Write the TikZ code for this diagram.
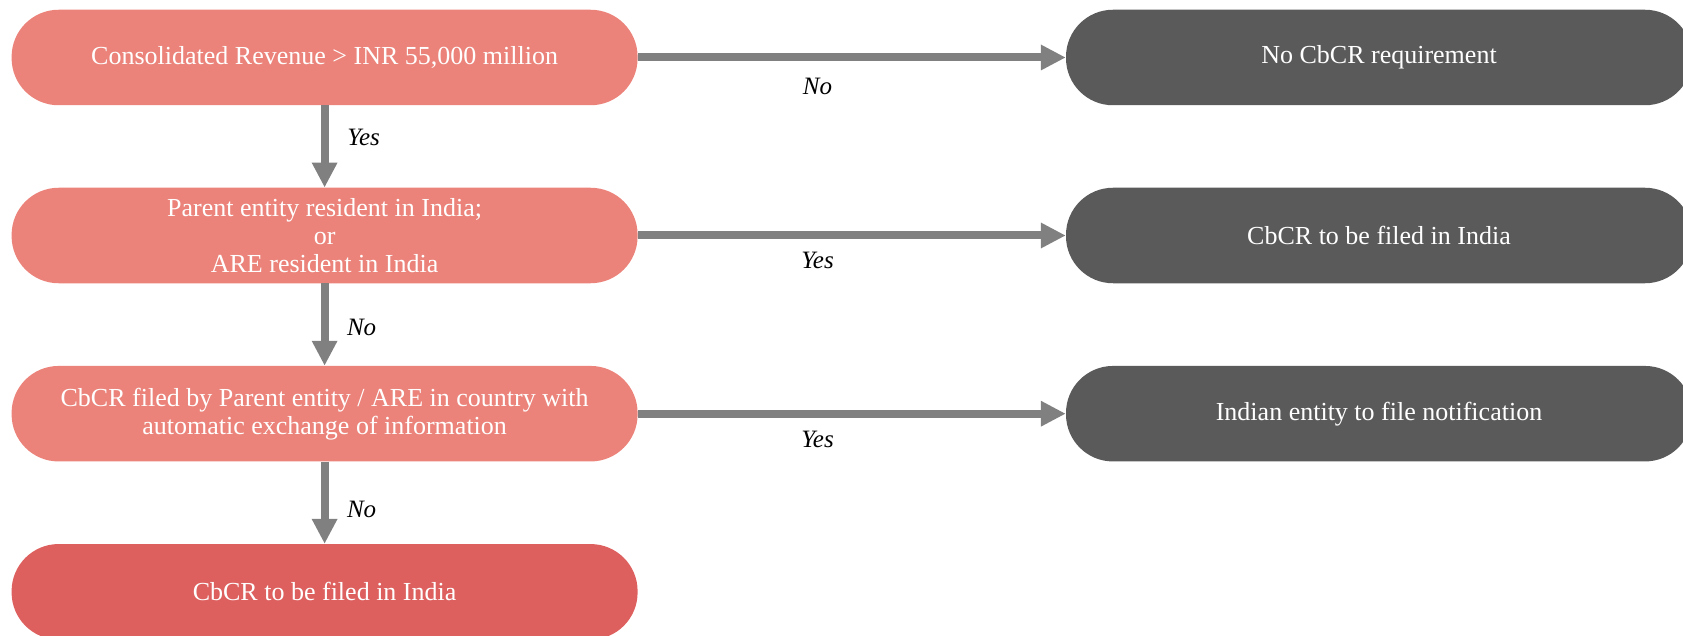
\documentclass[tikz,border=0pt]{standalone}
\usepackage{fontspec}
\setmainfont{Liberation Serif}
\usetikzlibrary{arrows.meta}
\definecolor{salmon}{RGB}{235,131,122}
\definecolor{deepsalmon}{RGB}{221,96,95}
\definecolor{slate}{RGB}{90,90,90}
\definecolor{connector}{RGB}{128,128,128}
\begin{document}
\begin{tikzpicture}[x=1pt,y=1pt,
  pill/.style={rectangle, rounded corners=47pt, minimum width=626pt,
    minimum height=95.5pt, inner sep=0pt, text=white, align=center,
    font=\fontsize{26}{28}\selectfont},
  decision/.style={pill, fill=salmon},
  outcome/.style={pill, fill=slate},
  final/.style={pill, fill=deepsalmon},
  flow/.style={draw=connector, line width=8pt,
    -{Triangle[length=25pt,width=24pt]}},
  lbl/.style={font=\fontsize{25}{28}\selectfont\itshape, text=black, inner sep=0pt}]
\useasboundingbox (0,0) rectangle (1683,-636);

% decision column
\node[decision] (q1) at (324.6,-57.5) {Consolidated Revenue > INR 55,000 million};
\node[decision] (q2) at (324.6,-235.5) {Parent entity resident in India;\\or\\ARE resident in India};
\node[decision] (q3) at (324.6,-413.7) {CbCR filed by Parent entity / ARE in country with\\automatic exchange of information};
\node[final] (q4) at (324.6,-591.8) {CbCR to be filed in India};

% outcome column
\node[outcome] (r1) at (1379,-57.5) {No CbCR requirement};
\node[outcome] (r2) at (1379,-235.5) {CbCR to be filed in India};
\node[outcome] (r3) at (1379,-413.7) {Indian entity to file notification};

% vertical connectors
\draw[flow] (q1.south) -- node[lbl, pos=0.39, xshift=39pt] {Yes} (q2.north);
\draw[flow] (q2.south) -- node[lbl, pos=0.53, xshift=37pt] {No} (q3.north);
\draw[flow] (q3.south) -- node[lbl, pos=0.58, xshift=37pt] {No} (q4.north);

% horizontal connectors
\draw[flow] (q1.east) -- node[lbl, pos=0.42, yshift=-29pt] {No} (r1.west);
\draw[flow] (q2.east) -- node[lbl, pos=0.42, yshift=-25pt] {Yes} (r2.west);
\draw[flow] (q3.east) -- node[lbl, pos=0.42, yshift=-26pt] {Yes} (r3.west);
\end{tikzpicture}
\end{document}
